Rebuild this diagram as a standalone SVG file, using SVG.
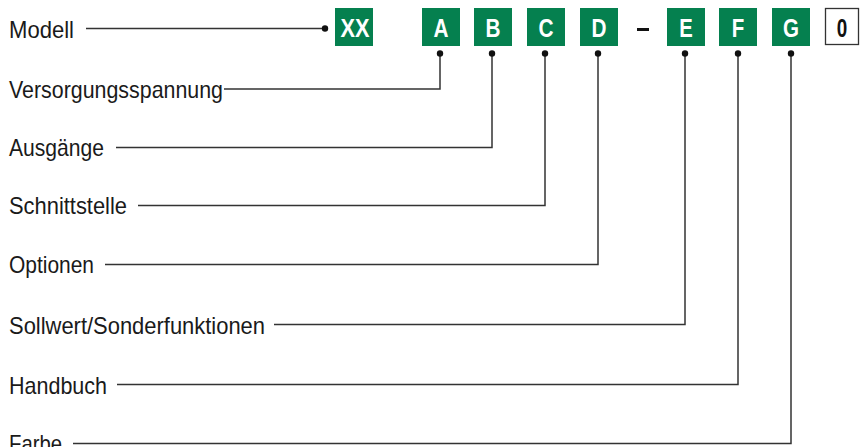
<svg xmlns="http://www.w3.org/2000/svg" width="860" height="447" viewBox="0 0 860 447">
  <defs>
    <style>
      .bg { fill: #ffffff; }
      .code { fill: #05804f; }
      .code-text { font-family: "Liberation Sans", Arial, sans-serif; font-weight: bold; font-size: 26px; fill: #ffffff; text-anchor: middle; }
      .fixed { fill: #ffffff; stroke: #333333; stroke-width: 1.3; }
      .fixed-text { font-family: "Liberation Sans", Arial, sans-serif; font-weight: bold; font-size: 26px; fill: #111111; text-anchor: middle; }
      .label { font-family: "Liberation Sans", Arial, sans-serif; font-size: 24px; fill: #1a1a1a; }
      .wire { fill: none; stroke: #333333; stroke-width: 1.5; }
      .dot { fill: #111111; }
    </style>
  </defs>

  <rect class="bg" x="0" y="0" width="860" height="447"/>

  <!-- type code boxes -->
  <g id="code-XX"><rect class="code" x="335" y="8" width="38" height="38"/><text class="code-text" x="355" y="37" textLength="29" lengthAdjust="spacingAndGlyphs">XX</text></g>
  <g id="code-A"><rect class="code" x="422" y="8" width="38" height="38"/><text class="code-text" x="441" y="37" textLength="15" lengthAdjust="spacingAndGlyphs">A</text></g>
  <g id="code-B"><rect class="code" x="474" y="8" width="38" height="38"/><text class="code-text" x="493" y="37" textLength="15" lengthAdjust="spacingAndGlyphs">B</text></g>
  <g id="code-C"><rect class="code" x="527" y="8" width="38" height="38"/><text class="code-text" x="546" y="37" textLength="15" lengthAdjust="spacingAndGlyphs">C</text></g>
  <g id="code-D"><rect class="code" x="580" y="8" width="38" height="38"/><text class="code-text" x="599" y="37" textLength="15" lengthAdjust="spacingAndGlyphs">D</text></g>
  <g id="separator"><rect x="637" y="28" width="12" height="3" fill="#111111"/></g>
  <g id="code-E"><rect class="code" x="667" y="8" width="38" height="38"/><text class="code-text" x="686" y="37" textLength="13.5" lengthAdjust="spacingAndGlyphs">E</text></g>
  <g id="code-F"><rect class="code" x="719" y="8" width="38" height="38"/><text class="code-text" x="738" y="37" textLength="12.5" lengthAdjust="spacingAndGlyphs">F</text></g>
  <g id="code-G"><rect class="code" x="772" y="8" width="38" height="38"/><text class="code-text" x="791" y="37" textLength="16" lengthAdjust="spacingAndGlyphs">G</text></g>
  <g id="code-0"><rect class="fixed" x="825.5" y="8.5" width="33" height="36"/><text class="fixed-text" x="842" y="37" textLength="10.5" lengthAdjust="spacingAndGlyphs">0</text></g>

  <!-- labels -->
  <g id="label-modell"><text class="label" x="9" y="37.5" textLength="65" lengthAdjust="spacingAndGlyphs">Modell</text></g>
  <g id="label-versorgung"><text class="label" x="9" y="98" textLength="214" lengthAdjust="spacingAndGlyphs">Versorgungsspannung</text></g>
  <g id="label-ausgaenge"><text class="label" x="9" y="156" textLength="95" lengthAdjust="spacingAndGlyphs">Ausgänge</text></g>
  <g id="label-schnittstelle"><text class="label" x="9" y="214" textLength="118" lengthAdjust="spacingAndGlyphs">Schnittstelle</text></g>
  <g id="label-optionen"><text class="label" x="9" y="273" textLength="85" lengthAdjust="spacingAndGlyphs">Optionen</text></g>
  <g id="label-sollwert"><text class="label" x="9" y="334" textLength="256" lengthAdjust="spacingAndGlyphs">Sollwert/Sonderfunktionen</text></g>
  <g id="label-handbuch"><text class="label" x="9" y="394" textLength="98" lengthAdjust="spacingAndGlyphs">Handbuch</text></g>
  <g id="label-farbe"><text class="label" x="9" y="452" textLength="53" lengthAdjust="spacingAndGlyphs">Farbe</text></g>

  <!-- connectors -->
  <g id="connectors">
    <path class="wire" d="M86 28.5 H325"/>
    <circle class="dot" cx="325" cy="28.5" r="3.2"/>

    <path class="wire" d="M224 89 H440 V53.5"/>
    <circle class="dot" cx="440" cy="53.5" r="3.2"/>

    <path class="wire" d="M116 147.5 H492 V53.5"/>
    <circle class="dot" cx="492" cy="53.5" r="3.2"/>

    <path class="wire" d="M138 205.5 H545 V53.5"/>
    <circle class="dot" cx="545" cy="53.5" r="3.2"/>

    <path class="wire" d="M105 264.5 H598 V53.5"/>
    <circle class="dot" cx="598" cy="53.5" r="3.2"/>

    <path class="wire" d="M274 324.5 H685 V53.5"/>
    <circle class="dot" cx="685" cy="53.5" r="3.2"/>

    <path class="wire" d="M117 384.5 H738 V53.5"/>
    <circle class="dot" cx="738" cy="53.5" r="3.2"/>

    <path class="wire" d="M73 443.5 H791 V53.5"/>
    <circle class="dot" cx="791" cy="53.5" r="3.2"/>
  </g>
</svg>
